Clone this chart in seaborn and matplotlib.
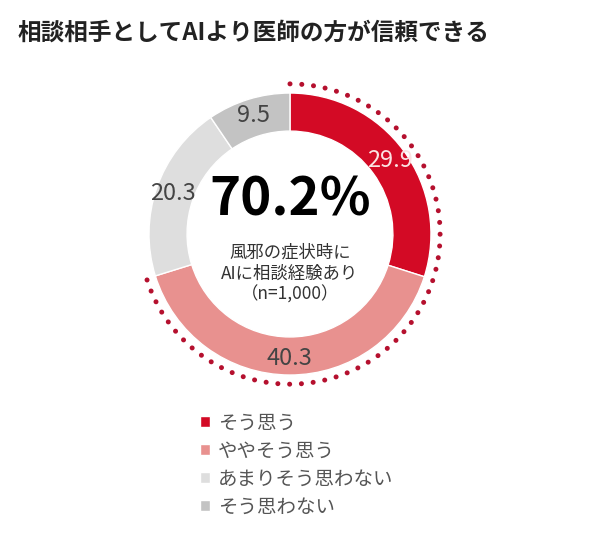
import numpy as np
import seaborn as sns
import matplotlib
matplotlib.use("Agg")
import matplotlib.pyplot as plt

# data
categories = ["そう思う", "ややそう思う", "あまりそう思わない", "そう思わない"]
values = [29.9, 40.3, 20.3, 9.5]
value_labels = ["29.9", "40.3", "20.3", "9.5"]
colors = ["#D30A25", "#E8918F", "#DEDEDE", "#C3C3C3"]
label_colors = ["#FBE3E3", "#444444", "#444444", "#444444"]
total_agree = "70.2%"
center_lines = "風邪の症状時に\nAIに相談経験あり\n（n=1,000）"
title = "相談相手としてAIより医師の方が信頼できる"

sns.set_theme(style="white")
plt.rcParams["font.family"] = ["Noto Sans CJK JP", "DejaVu Sans"]

fig = plt.figure(figsize=(6, 5.57), dpi=100)
ax = fig.add_axes([0.2013, 0.2761, 0.564, 0.6075])

pal = sns.color_palette(colors)
wedges, _ = ax.pie(values, colors=pal, startangle=90, counterclock=False,
                   radius=1.0,
                   wedgeprops=dict(width=0.27, edgecolor="white", linewidth=1))

# value labels on the ring
cum = np.cumsum([0] + values[:-1])
for v, c, lab, col in zip(values, cum, value_labels, label_colors):
    ang = np.deg2rad(90 - (c + v / 2) * 3.6)
    ax.text(0.88 * np.cos(ang), 0.88 * np.sin(ang), lab, ha="center", va="center",
            fontsize=17, color=col)

# dotted arc around the "agree" share
share = values[0] + values[1]
t = np.deg2rad(np.linspace(90, 90 - share * 3.6, 300))
ax.plot(1.065 * np.cos(t), 1.065 * np.sin(t), color="#B5102E", lw=3.6,
        linestyle=(0, (0.01, 2.35)), dash_capstyle="round", clip_on=False)

ax.text(0, 0.24, total_agree, ha="center", va="center", fontsize=38,
        fontweight="bold", color="black")
ax.text(0, -0.28, center_lines, ha="center", va="center", fontsize=12.5,
        color="#333333", linespacing=1.2)

ax.set_xlim(-1.2, 1.2)
ax.set_ylim(-1.2, 1.2)
ax.set_aspect("equal")
ax.axis("off")

fig.text(0.03, 1 - 33 / 557, title, ha="left", va="center", fontsize=17,
         fontweight="bold", color="#222222")

fig.legend(wedges, categories, loc="upper left",
           bbox_to_anchor=(192 / 600, 1 - 405 / 557), frameon=False,
           fontsize=14, handlelength=0.5, handleheight=0.5, handletextpad=0.45,
           labelspacing=0.36, labelcolor="#555555", borderaxespad=0)

fig.savefig("out.png", dpi=100, facecolor="white")
